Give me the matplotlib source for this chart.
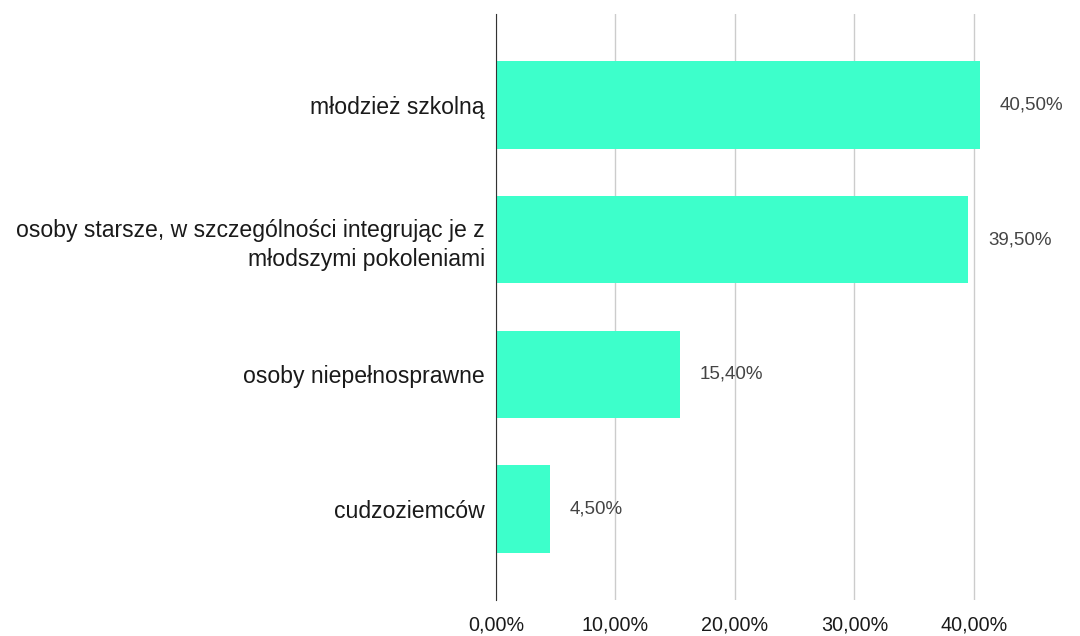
import matplotlib.pyplot as plt
from matplotlib.ticker import FuncFormatter

plt.rcParams['font.family'] = ['Liberation Sans', 'DejaVu Sans']

# Data
categories = [
    'młodzież szkolną',
    'osoby starsze, w szczególności integrując je z\nmłodszymi pokoleniami',
    'osoby niepełnosprawne',
    'cudzoziemców',
]
values = [40.5, 39.5, 15.4, 4.5]
value_labels = ['40,50%', '39,50%', '15,40%', '4,50%']
xticks = [0, 10, 20, 30, 40]

fig = plt.figure(figsize=(10.8, 6.36), dpi=100)
ax = fig.add_axes([0.4593, 0.0566, 0.4977, 0.9214])

y = range(len(categories))
ax.barh(y, values, height=0.65, color='#3dffcb', zorder=3)

for yi, v, lab in zip(y, values, value_labels):
    ax.annotate(lab, (v, yi), xytext=(20, 0), textcoords='offset pixels',
                va='center', ha='left', fontsize=13.5, color='#444444')

ax.set_xlim(0, 45)
ax.set_ylim(3.675, -0.675)
ax.set_xticks(xticks)
ax.xaxis.set_major_formatter(FuncFormatter(lambda v, p: f'{v:.2f}%'.replace('.', ',')))
ax.set_yticks(list(y))
ax.set_yticklabels(categories, fontsize=16.6, color='#1a1a1a', linespacing=1.35)
ax.tick_params(axis='both', length=0)
ax.tick_params(axis='x', pad=11, labelsize=14.2, labelcolor='#1a1a1a')
ax.tick_params(axis='y', pad=8)

ax.grid(axis='x', color='#cccccc', linewidth=1, zorder=0)
for s in ['top', 'right', 'bottom']:
    ax.spines[s].set_visible(False)
ax.spines['left'].set_color('#333333')
ax.spines['left'].set_zorder(4)

fig.savefig('out.png', dpi=100, facecolor='white')
